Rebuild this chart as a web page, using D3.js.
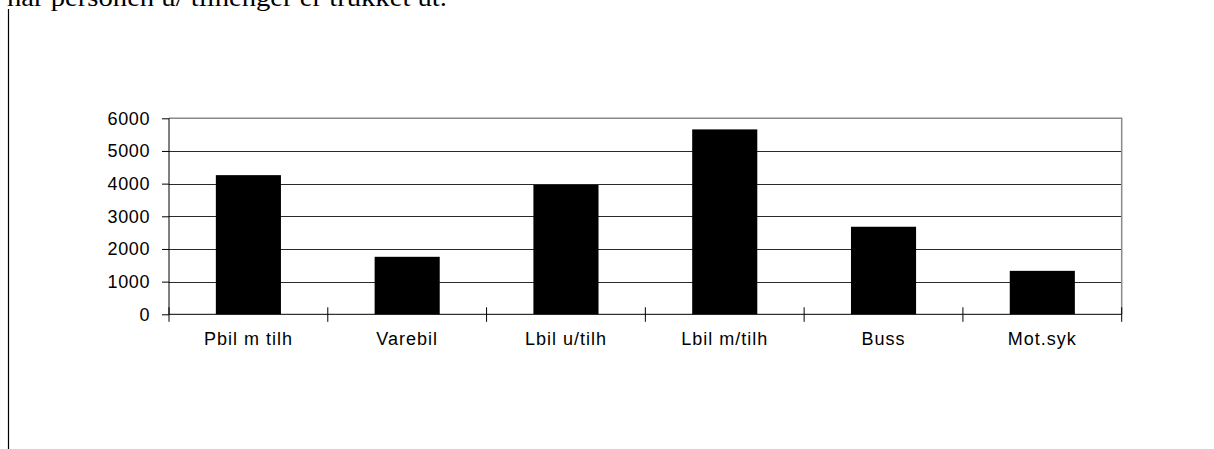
<!DOCTYPE html>
<html>
<head>
<meta charset="utf-8">
<script src="https://cdn.jsdelivr.net/npm/d3@7"></script>
<style>
  html, body { margin: 0; padding: 0; background: #fff; }
  svg { display: block; }
</style>
</head>
<body>
<svg id="chart" width="1214" height="449"></svg>
<script>
const categories = ["Pbil m tilh", "Varebil", "Lbil u/tilh", "Lbil m/tilh", "Buss", "Mot.syk"];
const values = [4260, 1760, 3960, 5660, 2680, 1330];
const yTicks = [0, 1000, 2000, 3000, 4000, 5000, 6000];
const headerText = "har personen u/ tilhenger er trukket ut.";

const svg = d3.select("#chart");
const margin = { left: 169, right: 1121.7, top: 118.3, bottom: 314.3 };

const x = d3.scaleBand().domain(categories).range([margin.left, margin.right]).paddingInner(0.59).paddingOuter(0.295);
const y = d3.scaleLinear().domain([0, 6000]).range([margin.bottom, margin.top]);

// Cut-off header text
svg.append("text")
  .attr("x", 7).attr("y", 5.5)
  .attr("font-family", "'Liberation Serif', 'Times New Roman', serif")
  .attr("font-size", 25)
  .attr("textLength", 440)
  .attr("lengthAdjust", "spacingAndGlyphs")
  .attr("fill", "#000")
  .text(headerText);

// Left page margin line
svg.append("line")
  .attr("x1", 8.5).attr("x2", 8.5).attr("y1", 9).attr("y2", 449)
  .attr("stroke", "#000").attr("stroke-width", 1.2);

// Gridlines
svg.append("g")
  .selectAll("line")
  .data(yTicks.filter(d => d > 0 && d < 6000))
  .join("line")
  .attr("x1", margin.left).attr("x2", margin.right)
  .attr("y1", d => Math.round(y(d)) + 0.5).attr("y2", d => Math.round(y(d)) + 0.5)
  .attr("stroke", "#2a2a2a").attr("stroke-width", 1);

// Plot border top and right (gray)
svg.append("path")
  .attr("d", `M${margin.left},${y(6000)}H${margin.right}V${margin.bottom}`)
  .attr("fill", "none").attr("stroke", "#8a8a8a").attr("stroke-width", 1.5);

// Bars
svg.append("g")
  .selectAll("rect")
  .data(categories.map((c, i) => ({ c, v: values[i] })))
  .join("rect")
  .attr("x", d => x(d.c))
  .attr("width", x.bandwidth())
  .attr("y", d => y(d.v))
  .attr("height", d => y(0) - y(d.v))
  .attr("fill", "#000");

// Y axis
const yAxis = d3.axisLeft(y).tickValues(yTicks).tickSize(7).tickPadding(12).tickFormat(d3.format("d"));
const gy = svg.append("g").attr("transform", `translate(${margin.left},0)`).call(yAxis);
gy.select(".domain").attr("stroke", "#000").attr("d", `M0,${y(6000)}V${y(0)}`);
gy.selectAll(".tick line").attr("stroke", "#000");
gy.selectAll(".tick text")
  .attr("font-family", "'Liberation Sans', Arial, sans-serif")
  .attr("font-size", 18)
  .attr("letter-spacing", 0.6)
  .attr("fill", "#000");

// X axis: cross ticks at category boundaries
const xAxisG = svg.append("g");
xAxisG.append("line")
  .attr("x1", margin.left).attr("x2", margin.right)
  .attr("y1", y(0)).attr("y2", y(0))
  .attr("stroke", "#000").attr("stroke-width", 1);
const step = x.step();
const boundaries = d3.range(categories.length + 1).map(i => margin.left + i * step);
xAxisG.selectAll("line.bt")
  .data(boundaries)
  .join("line")
  .attr("class", "bt")
  .attr("x1", d => d).attr("x2", d => d)
  .attr("y1", y(0) - 7).attr("y2", y(0) + 7.5)
  .attr("stroke", "#000").attr("stroke-width", 1);
xAxisG.selectAll("text")
  .data(categories)
  .join("text")
  .attr("x", d => x(d) + x.bandwidth() / 2)
  .attr("y", 345)
  .attr("text-anchor", "middle")
  .attr("font-family", "'Liberation Sans', Arial, sans-serif")
  .attr("font-size", 18)
  .attr("letter-spacing", 1)
  .attr("fill", "#000")
  .text(d => d);
</script>
</body>
</html>
